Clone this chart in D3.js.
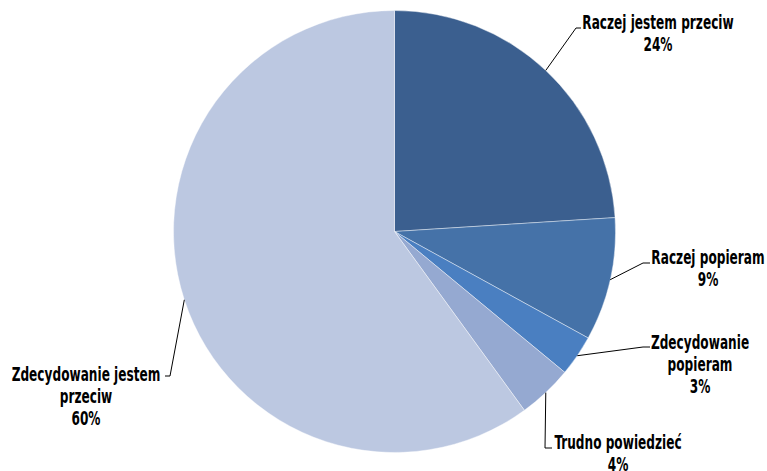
<!DOCTYPE html>
<html>
<head>
<meta charset="utf-8">
<script src="https://cdn.jsdelivr.net/npm/d3@7/dist/d3.min.js"></script>
<style>
  html, body { margin: 0; padding: 0; background: #fff; }
  svg { display: block; }
  .lbl { font-family: "DejaVu Sans Condensed", "DejaVu Sans", sans-serif; font-stretch: condensed; font-weight: bold; font-size: 19px; fill: #000; }
</style>
</head>
<body>
<svg id="chart" width="767" height="471"></svg>
<script>
// Survey answers, clockwise from 12 o'clock
const categories = ["Raczej jestem przeciw", "Raczej popieram", "Zdecydowanie popieram", "Trudno powiedzieć", "Zdecydowanie jestem przeciw"];
const values = [24, 9, 3, 4, 60];
const colors = ["#3B5F8F", "#4572A8", "#4A7FC1", "#95A9D1", "#BCC8E1"];
// label text split into lines
const labelLines = [
  ["Raczej jestem przeciw"],
  ["Raczej popieram"],
  ["Zdecydowanie", "popieram"],
  ["Trudno powiedzieć"],
  ["Zdecydowanie jestem", "przeciw"]
];

// label placement: elbow of leader line, text centre x, first baseline y
const labelLayout = [
  { elbow: [576, 28], end: [581, 28], cx: 658, y: 29 },
  { elbow: [643, 263], end: [650, 263], cx: 708, y: 264 },
  { elbow: [643, 347], end: [650, 347], cx: 700, y: 349 },
  { elbow: [545, 448], end: [552, 448], cx: 618, y: 449 },
  { elbow: [170, 376], end: [165, 376], cx: 86, y: 381 }
];

const svg = d3.select("#chart");
const cx = 394.5, cy = 231.5, r = 221;
const lineH = 22;
const squeeze = 0.71; // horizontal condensation of label type

const data = categories.map((c, i) => ({ name: c, value: values[i], idx: i }));
const pie = d3.pie().value(d => d.value).sort(null).startAngle(0).endAngle(2 * Math.PI);
const arcs = pie(data);
const arc = d3.arc().innerRadius(0).outerRadius(r);

const g = svg.append("g").attr("transform", `translate(${cx},${cy})`);
g.selectAll("path.slice")
  .data(arcs)
  .join("path")
  .attr("class", "slice")
  .attr("d", arc)
  .attr("fill", d => colors[d.data.idx])
  .attr("stroke", "#ffffff")
  .attr("stroke-width", 0.6)
  .attr("stroke-opacity", 0.7);

// leader lines start on the rim at each slice's mid angle
const leaders = svg.append("g");
arcs.forEach((a, i) => {
  const mid = (a.startAngle + a.endAngle) / 2;
  const p0 = [cx + r * Math.sin(mid), cy - r * Math.cos(mid)];
  const L = labelLayout[i];
  leaders.append("polyline")
    .attr("points", [p0, L.elbow, L.end].map(p => p.join(",")).join(" "))
    .attr("fill", "none")
    .attr("stroke", "#000")
    .attr("stroke-width", 1);
});

const fmt = v => Math.round(v) + "%";
const labels = svg.append("g");
arcs.forEach((a, i) => {
  const L = labelLayout[i];
  const lines = labelLines[i].concat([fmt(a.data.value)]);
  const t = labels.append("text")
    .attr("class", "lbl")
    .attr("text-anchor", "middle")
    .attr("transform", `translate(${L.cx},${L.y}) scale(${squeeze},1)`);
  lines.forEach((s, k) => {
    t.append("tspan").attr("x", 0).attr("y", k * lineH).text(s);
  });
});
</script>
</body>
</html>
